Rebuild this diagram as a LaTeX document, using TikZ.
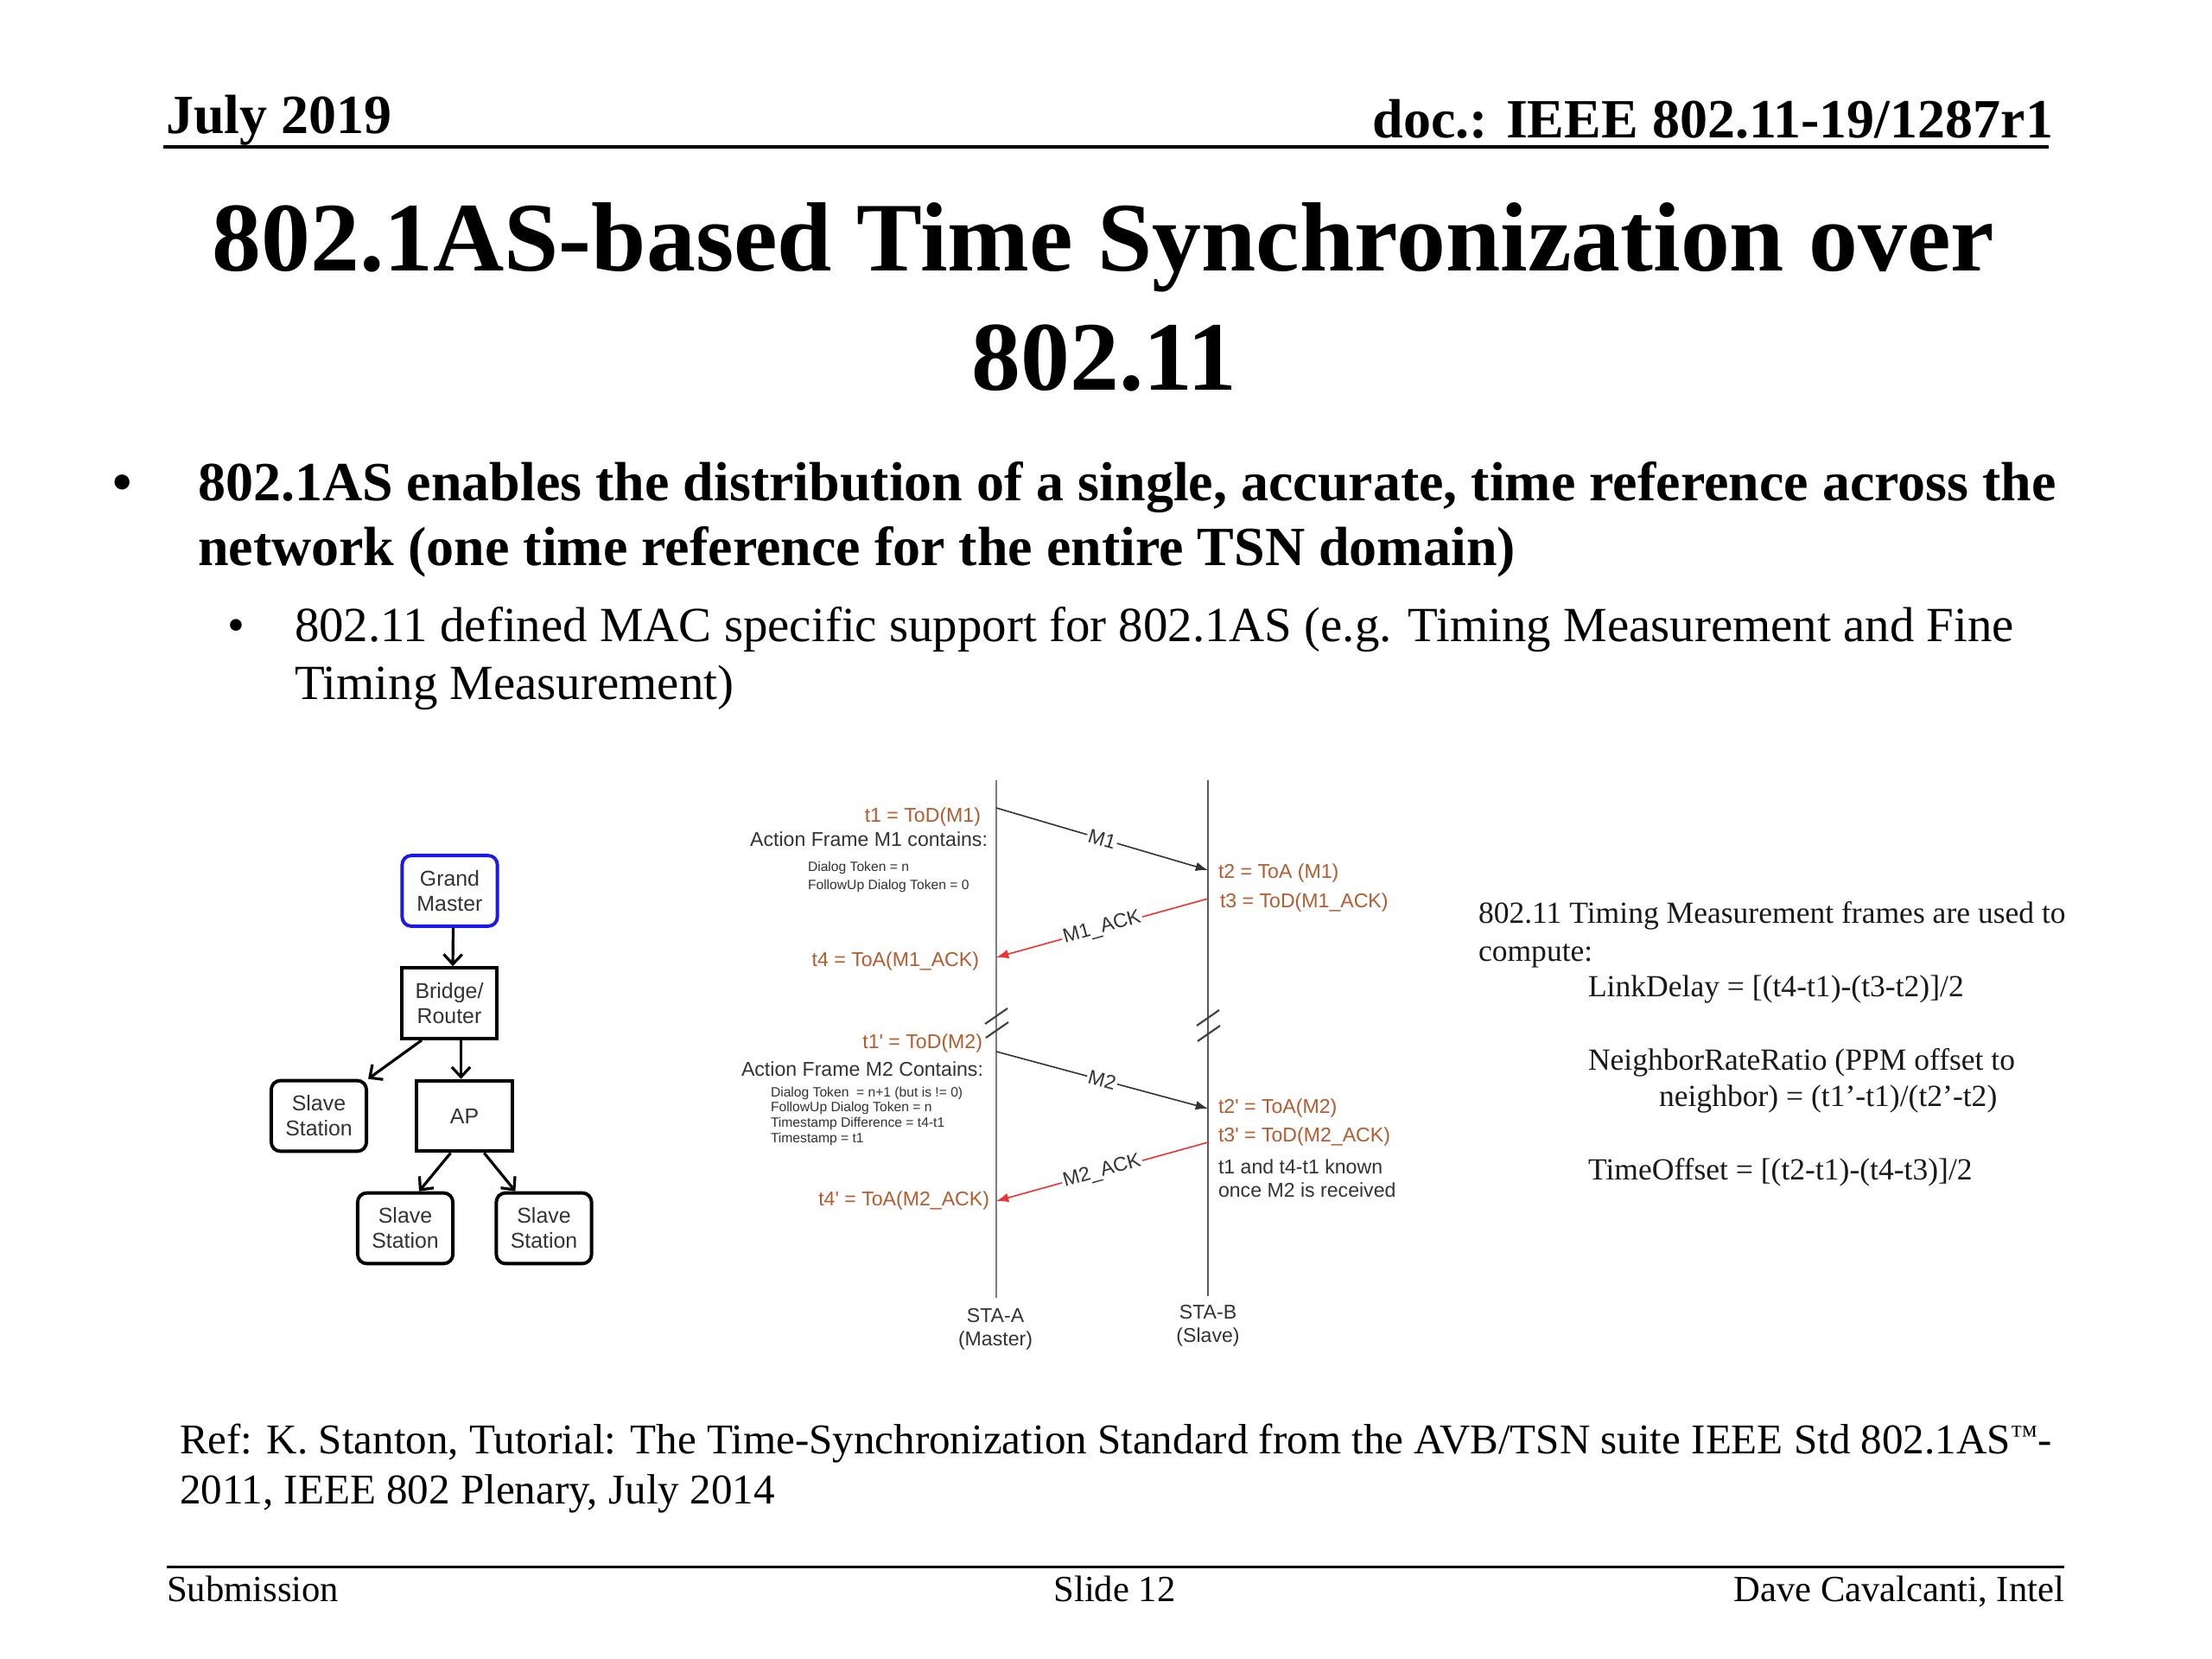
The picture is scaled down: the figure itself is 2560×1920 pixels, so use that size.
\documentclass[tikz,border=0pt]{standalone}
\usepackage{fontspec}
\setmainfont{Liberation Serif}
\newfontfamily\arialf{Liberation Sans}
\usetikzlibrary{arrows.meta,calc}
\definecolor{brownlbl}{RGB}{178,92,48}
\definecolor{gmblue}{RGB}{25,25,235}
\definecolor{msgred}{RGB}{240,50,50}
\definecolor{dtext}{RGB}{51,51,51}
\definecolor{lifegray}{RGB}{125,125,125}
\newcommand\fsz[2]{\fontsize{#1}{#2}\selectfont}
\begin{document}
\begin{tikzpicture}[x=0.28125pt,y=-0.28125pt,
  txt/.style={inner sep=0pt,outer sep=0pt},
  hdr/.style={txt,font=\fsz{18}{21}\bfseries},
  ttl/.style={txt,font=\fsz{32}{38}\bfseries,anchor=base},
  bulA/.style={txt,font=\fsz{18}{21}\bfseries,anchor=base west},
  bulB/.style={txt,font=\fsz{16}{19},anchor=base west},
  reftxt/.style={txt,font=\fsz{13.8}{16},anchor=base west},
  foot/.style={txt,font=\fsz{12}{14}},
  rule/.style={line width=0.85pt},
  treebox/.style={draw,line width=1.1pt,minimum width=31pt,minimum height=23pt,inner sep=1pt,align=center,font=\arialf\fsz{7}{8.2},text=dtext},
  roundbox/.style={treebox,rounded corners=3pt},
  treearrow/.style={line width=0.9pt,-{Straight Barb[length=3.2pt,width=6pt]}},
  lifeline/.style={draw=lifegray,line width=0.8pt},
  msg/.style={line width=0.45pt,draw=black!80,-{Latex[length=4pt,width=3pt]}},
  ackmsg/.style={line width=0.45pt,draw=msgred,-{Latex[length=4pt,width=3pt,fill=msgred]}},
  msglabel/.style={sloped,fill=white,inner sep=0.5pt,font=\arialf\fsz{6.5}{7.5},text=dtext},
  seqlbl/.style={txt,font=\arialf\fsz{6.5}{7.5},text=brownlbl},
  seqnote/.style={txt,font=\arialf\fsz{6.5}{7.5},text=dtext},
  seqsmall/.style={txt,font=\arialf\fsz{4.4}{5},text=dtext,anchor=base west},
  rtext/.style={txt,font=\fsz{10}{12},anchor=base west,text=black!90}
]
\useasboundingbox (0,0) rectangle (2560,1920);
\fill[white] (0,0) rectangle (2560,1920);

% header
\node[hdr,anchor=base west] (date) at (192,155) {July 2019};
\node[hdr,anchor=base east] (doc) at (2376,160) {doc.: IEEE 802.11-19/1287r1};
\coordinate (hl) at (189,170); \coordinate (hr) at (2371,170);
\draw[rule] (hl) -- (hr);

% title
\node[ttl] (title1) at (1277,314) {802.1AS-based Time Synchronization over};
\node[ttl] (title2) at (1278,452) {802.11};

% bullets
\node[bulA] (b1dot) at (130,580) {•};
\node[bulA] (b1l1) at (229,580) {802.1AS enables the distribution of a single, accurate, time reference across the};
\node[bulA] (b1l2) at (229,655) {network (one time reference for the entire TSN domain)};
\node[bulB] (b2dot) at (263,743) {•};
\node[bulB] (b2l1) at (341,743) {802.11 defined MAC specific support for 802.1AS (e.g. Timing Measurement and Fine};
\node[bulB] (b2l2) at (341,810) {Timing Measurement)};

% tree
\node[roundbox,draw=gmblue] (gm) at (520.5,1031) {Grand\\Master};
\node[treebox] (br) at (520,1161) {Bridge/\\Router};
\node[roundbox] (sl) at (369,1291.5) {Slave\\Station};
\node[treebox] (ap) at (537.5,1291.5) {AP};
\node[roundbox] (sbl) at (469,1421.5) {Slave\\Station};
\node[roundbox] (sbr) at (629.5,1421.5) {Slave\\Station};
\draw[treearrow] ($(gm.south)+(4,0)$) -- ($(br.north)+(4,0)$);
\draw[treearrow] ($(br.south west)!0.22!(br.south east)$) -- (sl.north east);
\draw[treearrow] (br.south -| {$(ap.north)+(-4,0)$}) -- ($(ap.north)+(-4,0)$);
\draw[treearrow] ($(ap.south west)!0.36!(ap.south east)$) -- ($(sbl.north west)!0.64!(sbl.north east)$);
\draw[treearrow] ($(ap.south west)!0.7!(ap.south east)$) -- ($(sbr.north west)!0.21!(sbr.north east)$);

% sequence diagram lifelines
\coordinate (aTop) at (1153,903); \coordinate (aBot) at (1153,1502);
\coordinate (bTop) at (1398,903); \coordinate (bBot) at (1398,1500);
\draw[lifeline] (aTop) -- (aBot);
\draw[lifeline,draw=black!65] (bTop) -- (bBot);
% break marks
\draw[lifeline,line width=0.6pt,draw=black!75] (1140,1185) -- (1166,1167) (1141,1201) -- (1167,1183);
\draw[lifeline,line width=0.6pt,draw=black!75] (1385,1187) -- (1411,1169) (1386,1205) -- (1412,1187);

% message endpoints
\coordinate (m1s) at (1153,935); \coordinate (m1e) at (1398,1007);
\coordinate (k1s) at (1398,1040); \coordinate (k1e) at (1153,1108);
\coordinate (m2s) at (1153,1217); \coordinate (m2e) at (1398,1283);
\coordinate (k2s) at (1398,1322); \coordinate (k2e) at (1153,1390);
\draw[msg] (m1s) -- node[msglabel] (m1lbl) {M1} (m1e);
\draw[ackmsg] (k1s) -- node[msglabel] (k1lbl) {M1\_ACK} (k1e);
\draw[msg] (m2s) -- node[msglabel] (m2lbl) {M2} (m2e);
\draw[ackmsg] (k2s) -- node[msglabel] (k2lbl) {M2\_ACK} (k2e);

% STA-A side labels
\node[seqlbl,anchor=base east] (t1) at (1135,951) {t1 = ToD(M1)};
\node[seqnote,anchor=base east] (af1) at (1143,979) {Action Frame M1 contains:};
\node[seqsmall] (af1a) at (935,1008) {Dialog Token = n};
\node[seqsmall] (af1b) at (935,1029) {FollowUp Dialog Token = 0};
\node[seqlbl,anchor=base east] (t4) at (1133,1118) {t4 = ToA(M1\_ACK)};
\node[seqlbl,anchor=base east] (t1p) at (1137,1213) {t1' = ToD(M2)};
\node[seqnote,anchor=base east] (af2) at (1138,1245) {Action Frame M2 Contains:};
\node[seqsmall] (af2a) at (892,1269) {Dialog Token\ \ = n+1 (but is != 0)};
\node[seqsmall] (af2b) at (892,1286) {FollowUp Dialog Token = n};
\node[seqsmall] (af2c) at (892,1304) {Timestamp Difference = t4-t1};
\node[seqsmall] (af2d) at (892,1322) {Timestamp = t1};
\node[seqlbl,anchor=base east] (t4p) at (1145,1395) {t4' = ToA(M2\_ACK)};

% STA-B side labels
\node[seqlbl,anchor=base west] (t2) at (1410,1016) {t2 = ToA (M1)};
\node[seqlbl,anchor=base west] (t3) at (1412,1050) {t3 = ToD(M1\_ACK)};
\node[seqlbl,anchor=base west] (t2p) at (1410,1288) {t2' = ToA(M2)};
\node[seqlbl,anchor=base west] (t3p) at (1410,1321) {t3' = ToD(M2\_ACK)};
\node[seqnote,anchor=base west] (kn1) at (1410,1358) {t1 and t4-t1 known};
\node[seqnote,anchor=base west] (kn2) at (1410,1385) {once M2 is received};

% station names
\node[seqnote,anchor=base] (staA) at (1152,1530) {STA-A};
\node[seqnote,anchor=base] (staAr) at (1152,1557) {(Master)};
\node[seqnote,anchor=base] (staB) at (1398,1526) {STA-B};
\node[seqnote,anchor=base] (staBr) at (1398,1553) {(Slave)};

% right text
\node[rtext] (r1) at (1711,1068) {802.11 Timing Measurement frames are used to};
\node[rtext] (r2) at (1711,1112) {compute:};
\node[rtext] (r3) at (1838,1153) {LinkDelay = [(t4-t1)-(t3-t2)]/2};
\node[rtext] (r4) at (1838,1238) {NeighborRateRatio (PPM offset to};
\node[rtext] (r5) at (1920,1280) {neighbor) = (t1’-t1)/(t2’-t2)};
\node[rtext] (r6) at (1838,1365) {TimeOffset = [(t2-t1)-(t4-t3)]/2};

% reference
\node[reftxt] (ref1) at (208,1682) {Ref: K. Stanton, Tutorial: The Time-Synchronization Standard from the AVB/TSN suite IEEE Std 802.1AS\raisebox{0.45ex}{\fsz{9}{9}™}-};
\node[reftxt] (ref2) at (208,1740) {2011, IEEE 802 Plenary, July 2014};

% footer
\coordinate (fl) at (193,1813); \coordinate (fr) at (2389,1813);
\draw[rule] (fl) -- (fr);
\node[foot,anchor=base west] (sub) at (193,1853) {Submission};
\node[foot,anchor=base] (slide) at (1290,1853) {Slide 12};
\node[foot,anchor=base east] (auth) at (2389,1853) {Dave Cavalcanti, Intel};
\end{tikzpicture}
\end{document}
